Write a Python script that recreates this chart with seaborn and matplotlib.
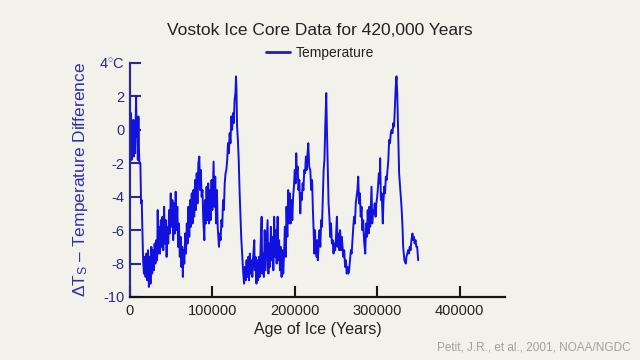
import seaborn as sns
import matplotlib.pyplot as plt
import pandas as pd

# Vostok temperature record (age in kyr, deg C)
age_kyr = [0, 0.7, 1.4, 2.1, 2.8, 3.5, 4.2, 4.9, 5.6, 6.3,
           7.0, 7.5, 8.2, 8.9, 9.6, 10.3, 11.0, 11.5, 12.7, 13.5,
           14.3, 16.0, 17, 18, 19, 20, 21, 22, 23, 24,
           25, 26, 27, 28, 29, 30, 31, 32, 33, 33.7,
           34.5, 35.5, 36.5, 37.5, 38.5, 39.5, 40.5, 41.5, 42.5, 43.5,
           44.5, 45.5, 46.5, 47.5, 48.5, 49.5, 50.5, 51.5, 52.5, 53.5,
           54.5, 55.5, 56.5, 57.5, 58.5, 59.5, 60.5, 61.5, 62.5, 63.5,
           64.2, 65, 66, 67, 68, 69, 70, 71, 72, 73,
           74, 75, 76, 77, 78, 79, 80, 81, 82, 83,
           84.2, 85, 86, 87, 88, 89, 90.3, 91, 92, 93,
           94, 95, 96, 97, 98, 99, 100, 101.5, 102.5, 103.5,
           104.5, 105.5, 106.5, 108, 109, 110, 111, 112, 113, 114,
           115, 116, 117, 118, 119, 120, 121, 122, 123, 124,
           125, 126, 127, 128, 128.7, 129.3, 130, 131, 132, 133,
           134, 135, 136.6, 137.5, 138.5, 139.5, 140.5, 141.5, 142.5, 143.5,
           144.5, 145.5, 146.5, 147.5, 148.5, 149.5, 150.9, 151.5, 152.5, 153.5,
           154.5, 155.5, 156.5, 157.5, 158.5, 159.8, 160.5, 161.5, 162.5, 163.5,
           164.5, 165.5, 167, 168, 169, 170, 171, 172, 173, 174,
           175, 176, 177, 178, 179.2, 180, 181, 182, 183, 184,
           185, 186, 187, 188, 189, 190, 191, 192, 193, 194,
           195, 196, 197, 198, 199, 200, 201, 201.8, 202.5, 203.5,
           204.5, 205.5, 206.7, 207.5, 208.5, 209.5, 210.5, 211.5, 212.5, 213.5,
           214.5, 215.5, 216.4, 217.5, 218.8, 220, 221, 222, 223, 223.7,
           224.5, 225.5, 226.5, 227.5, 228, 229, 230, 231, 232, 233,
           234, 235, 236, 237, 238.2, 239, 240, 241, 242, 243,
           244, 245, 246, 247, 248, 249, 250, 251.1, 252, 253,
           254, 255, 256, 257, 258, 259, 260, 261, 262, 263,
           264, 265, 266, 267, 268, 269, 270, 271, 272, 273,
           274, 275, 276, 277, 278, 279, 280, 281, 282, 283,
           284, 285.5, 286.5, 287.5, 288.5, 289.5, 290.5, 291.5, 293.1, 294,
           295, 296, 297, 298, 299, 300, 301, 302, 303, 303.6,
           304.5, 305.5, 306.8, 307.5, 308.5, 309.5, 310.5, 311.5, 312.5, 313.5,
           314.5, 315.5, 316.5, 317.5, 318.5, 319.5, 320.5, 321.5, 322.5, 323.4,
           324.3, 325.5, 326.6, 328, 329.5, 330.7, 331.5, 333, 334.7, 335.5,
           336.5, 337.5, 338.5, 339.5, 340.5, 341.5, 342.8, 343.5, 344.5, 345.5,
           346.5, 347.5, 348.5, 349.7]
temp_c = [1.2, -0.6, 1.0, -1.8, 0.4, -1.2, 0.6, -1.6, 0.2, -1.4,
          0.8, 2.0, -0.4, 0.6, -1.8, 0.8, -1.2, -2.0, -2.0, -4.4,
          -4.2, -7.8, -8.6, -7.6, -8.8, -7.4, -9.0, -7.2, -9.4, -7.6,
          -9.2, -7.0, -8.6, -7.2, -8.4, -6.8, -8.0, -6.6, -7.8, -4.8,
          -7.4, -5.8, -7.4, -5.4, -7.0, -5.2, -7.2, -4.6, -6.8, -5.4,
          -7.6, -5.8, -6.8, -4.8, -6.2, -3.8, -5.8, -4.2, -6.6, -4.4,
          -6.2, -3.7, -6.0, -4.6, -7.0, -5.6, -7.6, -6.4, -8.2, -7.0,
          -8.8, -7.2, -8.0, -6.2, -7.4, -5.6, -6.8, -4.6, -6.4, -4.2,
          -5.8, -3.8, -5.6, -3.6, -5.2, -3.0, -4.8, -2.6, -4.4, -2.0,
          -1.6, -3.6, -2.4, -4.0, -3.6, -5.4, -6.6, -4.2, -5.6, -3.4,
          -5.4, -3.2, -5.6, -3.6, -5.4, -3.0, -4.8, -1.9, -4.6, -2.8,
          -5.6, -3.6, -5.8, -7.0, -6.2, -6.6, -5.4, -5.8, -4.2, -4.8,
          -3.2, -2.6, -2.4, -1.8, -0.8, -1.4, -0.2, -0.8, 0.8, 0.0,
          1.0, 0.4, 1.8, 2.2, 3.2, 2.4, 0.2, -0.6, -1.8, -3.6,
          -5.0, -6.4, -7.8, -8.6, -9.2, -8.2, -9.0, -7.8, -8.8, -7.6,
          -9.0, -7.4, -8.6, -7.8, -8.8, -7.6, -6.6, -8.4, -7.6, -9.2,
          -7.8, -9.0, -7.6, -8.8, -7.0, -5.2, -8.6, -7.4, -8.8, -6.0,
          -8.4, -7.2, -5.4, -8.6, -6.8, -8.2, -5.8, -7.8, -6.4, -8.4,
          -5.2, -7.6, -6.0, -8.0, -5.2, -7.8, -6.6, -8.4, -7.0, -8.8,
          -7.2, -8.6, -7.4, -5.8, -7.6, -4.6, -6.4, -3.6, -5.6, -3.8,
          -5.6, -4.2, -5.4, -4.0, -3.4, -2.4, -3.2, -1.4, -2.6, -2.2,
          -3.6, -3.0, -5.0, -3.8, -4.2, -3.2, -3.6, -2.4, -2.6, -1.6,
          -2.4, -1.4, -0.8, -2.2, -2.4, -3.6, -3.0, -4.8, -6.2, -7.4,
          -6.0, -7.0, -7.6, -6.6, -7.8, -6.8, -6.0, -7.0, -5.4, -5.8,
          -4.0, -2.4, -1.8, 0.2, 2.2, 0.0, -2.2, -4.4, -5.2, -6.4,
          -5.6, -6.8, -6.6, -7.4, -6.8, -7.2, -6.4, -5.2, -7.0, -6.2,
          -7.2, -6.0, -7.2, -6.4, -7.0, -7.6, -7.2, -8.2, -7.8, -8.6,
          -8.2, -8.6, -8.4, -7.8, -7.2, -7.4, -6.6, -5.8, -5.2, -5.6,
          -4.4, -4.0, -3.6, -2.8, -4.4, -3.8, -5.2, -4.6, -6.0, -5.4,
          -6.6, -7.4, -5.6, -6.4, -4.8, -6.2, -4.6, -5.8, -3.4, -5.6,
          -4.8, -5.0, -4.4, -5.2, -4.4, -4.0, -3.4, -2.6, -3.2, -1.7,
          -4.2, -3.8, -5.6, -4.4, -3.4, -3.8, -2.8, -3.0, -2.4, -1.8,
          -0.6, -0.8, -0.2, 0.0, -0.2, 0.4, 0.2, 1.4, 2.6, 3.2,
          2.2, -0.2, -2.6, -3.6, -4.6, -5.8, -7.0, -7.8, -8.0, -7.6,
          -7.4, -7.2, -7.4, -7.0, -7.2, -6.6, -6.2, -6.6, -6.4, -6.8,
          -6.6, -7.0, -7.0, -7.8]
x_ticks = [0, 100000, 200000, 300000, 400000]
y_ticks = [-10, -8, -6, -4, -2, 0, 2, 4]
y_ticklabels = ["-10", "-8", "-6", "-4", "-2", "0", "2", "4$^{\\circ}$C"]

bg = "#f3f2ea"
navy = "#2a2a8a"
line_blue = "#1212e0"

sns.set_theme(style="ticks")
plt.rcParams["font.family"] = ["Liberation Sans", "DejaVu Sans"]
plt.rcParams["mathtext.fontset"] = "custom"
plt.rcParams["mathtext.rm"] = "Liberation Sans"
plt.rcParams["mathtext.it"] = "Liberation Sans"

df = pd.DataFrame({"age": [a * 1000 for a in age_kyr], "temp": temp_c})

fig = plt.figure(figsize=(6.4, 3.6), dpi=100, facecolor=bg)
ax = fig.add_axes([0.203, 0.175, 0.586, 0.65], facecolor=bg)
sns.lineplot(data=df, x="age", y="temp", ax=ax, color=line_blue, lw=1.4,
             sort=False, label="Temperature", legend=False)

ax.set_xlim(0, 455000)
ax.set_ylim(-10, 4)
ax.set_xticks(x_ticks)
ax.set_xticklabels([str(t) for t in x_ticks])
ax.set_yticks(y_ticks)
ax.set_yticklabels(y_ticklabels)
sns.despine(ax=ax)
ax.spines["left"].set_color(navy)
ax.spines["bottom"].set_color("#151515")
ax.spines["left"].set_linewidth(1.6)
ax.spines["bottom"].set_linewidth(1.6)
ax.tick_params(axis="y", direction="in", length=8, width=1.5, color=navy,
               labelcolor=navy, labelsize=10.5, pad=4)
ax.tick_params(axis="x", direction="in", length=8, width=1.5, color="#151515",
               labelcolor="#222222", labelsize=10.5, pad=5)

ax.set_xlabel("Age of Ice (Years)", fontsize=11.5, color="#222222", labelpad=3)
ax.set_ylabel("$\\Delta$T$_{\\rm S}$ \u2013 Temperature Difference", fontsize=12.5,
              color="#3030a8", labelpad=6)

fig.text(0.5, 0.915, "Vostok Ice Core Data for 420,000 Years", ha="center",
         va="center", fontsize=12.5, color="#222222")
leg = fig.legend(loc="center", bbox_to_anchor=(0.5, 0.852), frameon=False,
                 fontsize=10, handlelength=1.7, handletextpad=0.4)
for t in leg.get_texts():
    t.set_color("#222222")
for h in leg.legend_handles:
    h.set_color("#2020a8")
    h.set_linewidth(2)
fig.text(0.985, 0.035, "Petit, J.R., et al., 2001, NOAA/NGDC", ha="right",
         va="center", fontsize=8.5, color="#a0a0a0")

fig.savefig("out.png", dpi=100, facecolor=bg)
